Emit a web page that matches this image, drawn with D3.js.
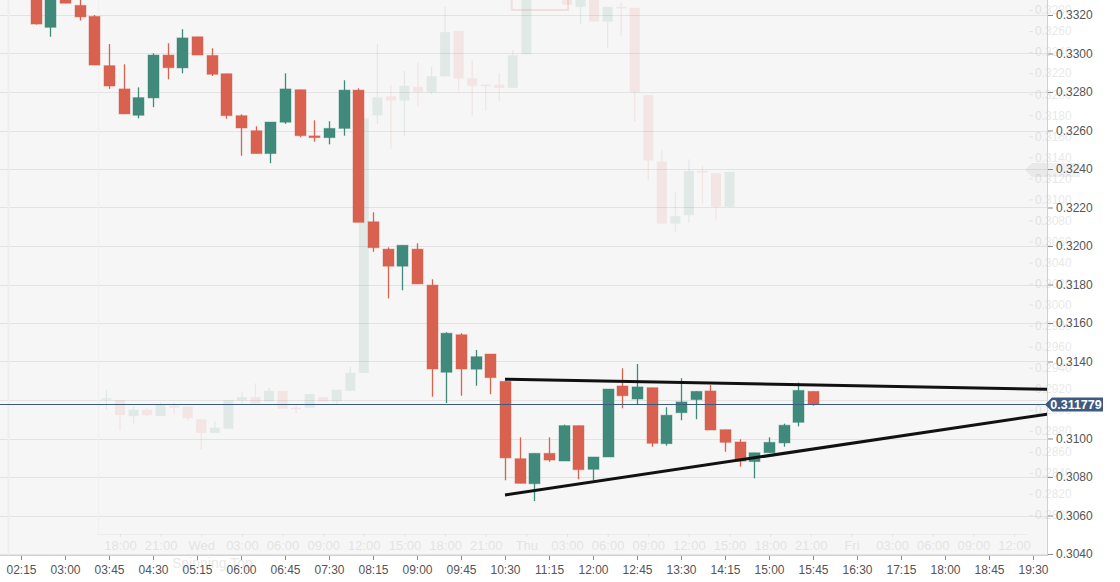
<!DOCTYPE html>
<html>
<head>
<meta charset="utf-8">
<script src="https://cdn.jsdelivr.net/npm/d3@7"></script>
<style>
    html, body { margin: 0; padding: 0; background: #fff; }
    #chart { width: 1120px; height: 582px; }
    text { font-family: "Liberation Sans", Arial, sans-serif; }
</style>
</head>
<body>
<div id="chart"></div>
<script>
// 15 minute candles (main chart)
const times = ["02:30","02:45","03:00","03:15","03:30","03:45","04:00","04:15","04:30","04:45",
    "05:00","05:15","05:30","05:45","06:00","06:15","06:30","06:45","07:00","07:15",
    "07:30","07:45","08:00","08:15","08:30","08:45","09:00","09:15","09:30","09:45",
    "10:00","10:15","10:30","10:45","11:00","11:15","11:30","11:45","12:00","12:15",
    "12:30","12:45","13:00","13:15","13:30","13:45","14:00","14:15","14:30","14:45",
    "15:00","15:15","15:30","15:45"];
const opens = [0.33350,0.33136,0.33310,0.33250,0.33193,0.32937,0.32816,0.32679,0.32769,0.32992,
    0.32925,0.33087,0.32990,0.32895,0.32677,0.32599,0.32480,0.32643,0.32812,0.32572,
    0.32563,0.32611,0.32810,0.32126,0.31984,0.31895,0.31984,0.31797,0.31344,0.31539,
    0.31360,0.31439,0.31297,0.30895,0.30765,0.30923,0.30883,0.31067,0.30840,0.30904,
    0.31273,0.31205,0.31264,0.30973,0.31134,0.31202,0.31247,0.31046,0.30982,0.30880,
    0.30926,0.30977,0.31084,0.31245];
const highs = [0.33380,0.33330,0.33330,0.33300,0.33200,0.33049,0.32944,0.32824,0.33001,0.33053,
    0.33126,0.33087,0.33027,0.32895,0.32684,0.32622,0.32644,0.32897,0.32812,0.32653,
    0.32648,0.32861,0.32819,0.32175,0.31993,0.32004,0.32014,0.31827,0.31552,0.31547,
    0.31460,0.31439,0.31297,0.31006,0.30923,0.31006,0.31072,0.31067,0.30904,0.31257,
    0.31365,0.31387,0.31264,0.31162,0.31313,0.31245,0.31278,0.31046,0.30996,0.30926,
    0.31006,0.31077,0.31290,0.31245];
const lows = [0.33150,0.33087,0.33261,0.33171,0.32940,0.32816,0.32686,0.32663,0.32721,0.32866,
    0.32897,0.32992,0.32883,0.32661,0.32469,0.32480,0.32430,0.32635,0.32565,0.32542,
    0.32528,0.32573,0.32123,0.31970,0.31728,0.31770,0.31803,0.31217,0.31184,0.31222,
    0.31274,0.31230,0.30783,0.30767,0.30675,0.30879,0.30883,0.30788,0.30784,0.30904,
    0.31157,0.31174,0.30957,0.30963,0.31095,0.31100,0.31044,0.30931,0.30854,0.30793,
    0.30926,0.30957,0.31063,0.31170];
const closes = [0.33153,0.33300,0.33261,0.33190,0.32940,0.32831,0.32686,0.32771,0.32992,0.32926,
    0.33081,0.32992,0.32892,0.32677,0.32613,0.32480,0.32644,0.32816,0.32573,0.32563,
    0.32611,0.32810,0.32123,0.31991,0.31895,0.32004,0.31803,0.31361,0.31547,0.31361,
    0.31425,0.31316,0.30899,0.30767,0.30923,0.30888,0.31067,0.30838,0.30904,0.31257,
    0.31222,0.31268,0.30975,0.31121,0.31190,0.31245,0.31044,0.30980,0.30882,0.30926,
    0.30980,0.31069,0.31250,0.311779];

const xTickLabels = ["02:15","03:00","03:45","04:30","05:15","06:00","06:45","07:30","08:15",
    "09:00","09:45","10:30","11:15","12:00","12:45","13:30","14:15","15:00","15:45","16:30",
    "17:15","18:00","18:45","19:30"];
const yTicks = [0.3040,0.3060,0.3080,0.3100,0.3120,0.3140,0.3160,0.3180,0.3200,0.3220,
    0.3240,0.3260,0.3280,0.3300,0.3320].filter(v => Math.abs(v - 0.3120) > 1e-9);

const currentPrice = 0.311779;

// drawn trend lines (start / end)
const upperTrendTimes = ["10:30","19:45"];
const upperTrendPrices = [0.31308, 0.31256];
const lowerTrendTimes = ["10:30","19:45"];
const lowerTrendPrices = [0.30707, 0.31127];

// faded hourly chart seen through the window
const ghostTimes = ["2019-06-11 17:00","2019-06-11 18:00","2019-06-11 19:00","2019-06-11 20:00",
    "2019-06-11 21:00","2019-06-11 22:00","2019-06-11 23:00","2019-06-12 00:00","2019-06-12 01:00",
    "2019-06-12 02:00","2019-06-12 03:00","2019-06-12 04:00","2019-06-12 05:00","2019-06-12 06:00",
    "2019-06-12 07:00","2019-06-12 08:00","2019-06-12 09:00","2019-06-12 10:00","2019-06-12 11:00",
    "2019-06-12 12:00","2019-06-12 13:00","2019-06-12 14:00","2019-06-12 15:00","2019-06-12 16:00",
    "2019-06-12 17:00","2019-06-12 18:00","2019-06-12 19:00","2019-06-12 20:00","2019-06-12 21:00",
    "2019-06-12 22:00","2019-06-12 23:00","2019-06-13 00:00","2019-06-13 03:00","2019-06-13 04:00",
    "2019-06-13 05:00","2019-06-13 06:00","2019-06-13 07:00","2019-06-13 08:00","2019-06-13 09:00",
    "2019-06-13 10:00","2019-06-13 11:00","2019-06-13 12:00","2019-06-13 13:00","2019-06-13 14:00",
    "2019-06-13 15:00"];
const ghostOpens = [0.2910,0.2909,0.2894,0.2900,0.2894,0.2904,0.2903,0.2891,0.2878,0.2882,0.2909,
    0.2912,0.2908,0.2918,0.2902,0.2902,0.2912,0.2908,0.2918,0.2935,0.3180,0.3198,0.3194,0.3207,
    0.3202,0.3217,0.3260,0.3215,0.3209,0.3209,0.3206,0.3238,0.3292,0.3283,0.3290,0.3269,0.3283,
    0.3282,0.3199,0.3136,0.3077,0.3085,0.3127,0.3125,0.3093];
const ghostHighs = [0.2919,0.2909,0.2903,0.2901,0.2907,0.2907,0.2903,0.2891,0.2889,0.2909,0.2917,
    0.2925,0.2921,0.2918,0.2905,0.2915,0.2912,0.2919,0.2941,0.3177,0.3248,0.3209,0.3222,0.3230,
    0.3226,0.3283,0.3260,0.3232,0.3209,0.3220,0.3242,0.3305,0.3295,0.3295,0.3292,0.3283,0.3287,
    0.3282,0.3199,0.3147,0.3107,0.3138,0.3132,0.3125,0.3126];
const ghostLows = [0.2900,0.2880,0.2887,0.2894,0.2894,0.2896,0.2890,0.2862,0.2878,0.2882,0.2905,
    0.2906,0.2908,0.2901,0.2897,0.2902,0.2908,0.2905,0.2918,0.2935,0.3172,0.3148,0.3160,0.3188,
    0.3200,0.3217,0.3203,0.3180,0.3184,0.3193,0.3206,0.3238,0.3285,0.3267,0.3269,0.3244,0.3255,
    0.3174,0.3118,0.3077,0.3069,0.3078,0.3096,0.3080,0.3093];
const ghostCloses = [0.2911,0.2895,0.2900,0.2895,0.2905,0.2902,0.2892,0.2878,0.2883,0.2909,0.2912,
    0.2906,0.2918,0.2901,0.2901,0.2915,0.2908,0.2919,0.2935,0.3177,0.3197,0.3194,0.3208,0.3202,
    0.3217,0.3259,0.3215,0.3208,0.3208,0.3206,0.3237,0.3300,0.3285,0.3292,0.3269,0.3283,0.3282,
    0.3202,0.3137,0.3077,0.3084,0.3127,0.3126,0.3093,0.3126];
const ghostXTickLabels = ["18:00","21:00","Wed","03:00","06:00","09:00","12:00","15:00","18:00",
    "21:00","Thu","03:00","06:00","09:00","12:00","15:00","18:00","21:00","Fri","03:00","06:00",
    "09:00","12:00"];
const ghostYTicks = [0.2800,0.2820,0.2840,0.2860,0.2880,0.2900,0.2920,0.2940,0.2960,0.2980,0.3000,
    0.3020,0.3040,0.3060,0.3080,0.3100,0.3120,0.3140,0.3160,0.3180,0.3200,0.3220,0.3240,0.3260,0.3280];

const UP = '#3f8a7a';
const DOWN = '#d8614f';
const W = 1120, H = 582;
const plotRight = 1047, plotBottom = 555;

const parseTime = d3.timeParse('%H:%M');
const parseGhost = d3.timeParse('%Y-%m-%d %H:%M');

const svg = d3.select('#chart').append('svg')
    .attr('width', W)
    .attr('height', H);

svg.append('defs').append('clipPath')
    .attr('id', 'plot-clip')
    .append('rect')
    .attr('x', 0).attr('y', 0)
    .attr('width', plotRight).attr('height', plotBottom);

svg.append('rect')
    .attr('x', 0).attr('y', 0)
    .attr('width', plotRight).attr('height', plotBottom)
    .attr('fill', '#f6f6f6');

const x = d3.scaleTime()
    .domain([parseTime('02:15'), parseTime('19:30')])
    .range([21, 1033]);
const y = d3.scaleLinear()
    .domain([0.3040, 0.3320])
    .range([554, 15]);

// grid
svg.append('g')
    .selectAll('line')
    .data(yTicks.concat([0.3120]))
    .enter().append('line')
    .attr('x1', 0).attr('x2', plotRight)
    .attr('y1', d => Math.round(y(d)) + 0.5)
    .attr('y2', d => Math.round(y(d)) + 0.5)
    .attr('stroke', '#e3e3e3')
    .attr('stroke-width', 1);

svg.append('line')
    .attr('x1', 8.5).attr('x2', 8.5)
    .attr('y1', 0).attr('y2', plotBottom)
    .attr('stroke', '#eceef1')
    .attr('stroke-width', 2);

// ---- faded background chart ----
const gx = d3.scaleTime()
    .domain([parseGhost('2019-06-11 18:00'), parseGhost('2019-06-14 12:00')])
    .range([120, 1014]);
const gy = d3.scaleLinear()
    .domain([0.2800, 0.3280])
    .range([515, 10]);

const ghostData = ghostTimes.map((t, i) => ({
    t: parseGhost(t), o: ghostOpens[i], h: ghostHighs[i], l: ghostLows[i], c: ghostCloses[i]
}));

const ghost = svg.append('g').attr('clip-path', 'url(#plot-clip)');

ghost.append('line')
    .attr('x1', 98).attr('x2', 1028)
    .attr('y1', 534.5).attr('y2', 534.5)
    .attr('stroke', '#ececec');
ghost.append('line')
    .attr('x1', 98.5).attr('x2', 98.5)
    .attr('y1', 0).attr('y2', 534)
    .attr('stroke', '#f0f0f0');

const gc = ghost.append('g').attr('opacity', 0.11);
gc.selectAll('line')
    .data(ghostData)
    .enter().append('line')
    .attr('x1', d => gx(d.t)).attr('x2', d => gx(d.t))
    .attr('y1', d => gy(d.h)).attr('y2', d => gy(d.l))
    .attr('stroke', d => d.c >= d.o ? UP : DOWN)
    .attr('stroke-width', 1.2);
gc.selectAll('rect')
    .data(ghostData)
    .enter().append('rect')
    .attr('x', d => gx(d.t) - 5)
    .attr('width', 10)
    .attr('y', d => gy(Math.max(d.o, d.c)))
    .attr('height', d => Math.max(1.5, Math.abs(gy(d.o) - gy(d.c))))
    .attr('fill', d => d.c >= d.o ? UP : DOWN);

// highlight box of the faded chart
ghost.append('rect')
    .attr('x', gx(parseGhost('2019-06-12 22:55')))
    .attr('y', -20)
    .attr('width', gx(parseGhost('2019-06-13 03:05')) - gx(parseGhost('2019-06-12 22:55')))
    .attr('height', gy(0.3280) + 20)
    .attr('fill', 'none')
    .attr('stroke', DOWN)
    .attr('stroke-opacity', 0.15)
    .attr('stroke-width', 2);

const gxAxis = svg.append('g')
    .attr('transform', 'translate(0,534)')
    .attr('opacity', 0.13)
    .call(d3.axisBottom(gx)
        .tickValues(d3.timeHour.every(3).range(parseGhost('2019-06-11 18:00'), parseGhost('2019-06-14 12:01')))
        .tickFormat((d, i) => ghostXTickLabels[i])
        .tickSize(3).tickPadding(4));
gxAxis.select('.domain').remove();
gxAxis.selectAll('text').attr('font-size', 13).attr('fill', '#666');
gxAxis.selectAll('line').attr('stroke', '#888');

const gyAxis = svg.append('g')
    .attr('transform', 'translate(1029,0)')
    .attr('opacity', 0.13)
    .call(d3.axisRight(gy)
        .tickValues(ghostYTicks)
        .tickFormat(d3.format('.4f'))
        .tickSize(4).tickPadding(2));
gyAxis.select('.domain').remove();
gyAxis.selectAll('text').attr('font-size', 12).attr('fill', '#555');
gyAxis.selectAll('line').attr('stroke', '#777');

svg.append('path')
    .attr('d', 'M1025,170 L1032,163 L1080,163 L1080,177 L1032,177 Z')
    .attr('fill', '#888')
    .attr('opacity', 0.12);

svg.append('text')
    .attr('x', 172).attr('y', 568)
    .attr('font-size', 14)
    .attr('fill', '#666')
    .attr('opacity', 0.15)
    .text('Spinning Top');

// ---- main candles ----
const candles = times.map((t, i) => ({
    t: parseTime(t), o: opens[i], h: highs[i], l: lows[i], c: closes[i]
}));

const plot = svg.append('g').attr('clip-path', 'url(#plot-clip)');

plot.append('g')
    .selectAll('line')
    .data(candles)
    .enter().append('line')
    .attr('x1', d => Math.round(x(d.t)) + 0.5)
    .attr('x2', d => Math.round(x(d.t)) + 0.5)
    .attr('y1', d => y(d.h))
    .attr('y2', d => y(d.l))
    .attr('stroke', d => d.c >= d.o ? UP : DOWN)
    .attr('stroke-width', 1.3);

plot.append('g')
    .selectAll('rect')
    .data(candles)
    .enter().append('rect')
    .attr('x', d => Math.round(x(d.t)) - 5)
    .attr('width', 11)
    .attr('y', d => y(Math.max(d.o, d.c)))
    .attr('height', d => Math.max(1.5, Math.abs(y(d.o) - y(d.c))))
    .attr('fill', d => d.c >= d.o ? UP : DOWN)
    .attr('stroke', d => d.c >= d.o ? UP : DOWN)
    .attr('stroke-opacity', 0.45)
    .attr('stroke-width', 1);

// current price line
plot.append('line')
    .attr('x1', 0).attr('x2', plotRight)
    .attr('y1', Math.round(y(currentPrice)) + 0.5)
    .attr('y2', Math.round(y(currentPrice)) + 0.5)
    .attr('stroke', '#3d5a80')
    .attr('stroke-width', 1);

// trend lines
const trendLine = d3.line()
    .x(d => x(parseTime(d[0])))
    .y(d => y(d[1]));

[[upperTrendTimes, upperTrendPrices], [lowerTrendTimes, lowerTrendPrices]].forEach(([ts, ps]) => {
    plot.append('path')
        .datum(ts.map((t, i) => [t, ps[i]]))
        .attr('d', trendLine)
        .attr('fill', 'none')
        .attr('stroke', '#111')
        .attr('stroke-width', 3)
        .attr('stroke-linecap', 'butt');
});

// axes
svg.append('line')
    .attr('x1', 0).attr('x2', plotRight)
    .attr('y1', plotBottom + 0.5).attr('y2', plotBottom + 0.5)
    .attr('stroke', '#cdd1dc');
svg.append('line')
    .attr('x1', plotRight + 0.5).attr('x2', plotRight + 0.5)
    .attr('y1', 0).attr('y2', plotBottom + 1)
    .attr('stroke', '#cdd1dc');

const xAxis = svg.append('g')
    .attr('transform', `translate(0,${plotBottom + 1})`)
    .call(d3.axisBottom(x)
        .tickValues(xTickLabels.map(parseTime))
        .tickFormat(d3.timeFormat('%H:%M'))
        .tickSize(4).tickPadding(5));
xAxis.select('.domain').remove();
xAxis.selectAll('line').attr('stroke', '#888');
xAxis.selectAll('text').attr('font-size', 12).attr('fill', '#555');

const yAxis = svg.append('g')
    .attr('transform', `translate(${plotRight + 1},0)`)
    .call(d3.axisRight(y)
        .tickValues(yTicks)
        .tickFormat(d3.format('.4f'))
        .tickSize(5).tickPadding(3));
yAxis.select('.domain').remove();
yAxis.selectAll('line').attr('stroke', '#888');
yAxis.selectAll('text').attr('font-size', 12).attr('fill', '#555');

// price tag
const py = Math.round(y(currentPrice)) + 0.5;
svg.append('path')
    .attr('d', `M${plotRight - 2},${py} L${plotRight + 5},${py - 7} L1103,${py - 7} L1103,${py + 7} L${plotRight + 5},${py + 7} Z`)
    .attr('fill', '#3d5a80');
svg.append('text')
    .attr('x', 1076).attr('y', py + 4.5)
    .attr('text-anchor', 'middle')
    .attr('font-size', 12.5)
    .attr('font-weight', 'bold')
    .attr('fill', '#fff')
    .text(currentPrice.toFixed(6));
</script>
</body>
</html>
